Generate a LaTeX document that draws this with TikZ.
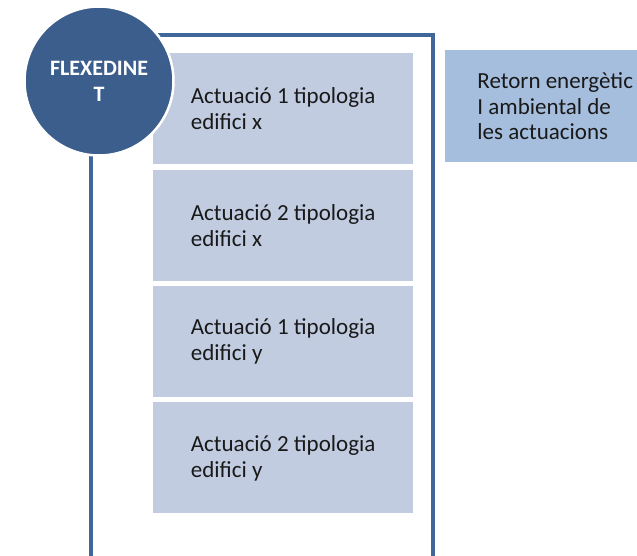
\documentclass[tikz,border=0pt]{standalone}
\usepackage{fontspec}
\setmainfont{Carlito}
\usetikzlibrary{positioning}
\definecolor{flexblue}{HTML}{3B5E8C}
\definecolor{framecol}{HTML}{41679A}
\definecolor{actfill}{HTML}{C1CCE1}
\definecolor{retfill}{HTML}{A6BEDD}
\tikzset{
  actbox/.style={fill=actfill, minimum width=260pt, minimum height=111pt,
    align=left, inner sep=0pt, text=black!90, font=\fontsize{23}{26}\selectfont},
}

\begin{document}
\begin{tikzpicture}[x=1pt,y=-1pt]
  \clip (0,0) rectangle (637,556);

  % frame round the actuacions
  \draw[framecol, line width=3.2pt] (91,600) |- (433,35) -- (433,600);

  % actuacions
  \node[actbox, anchor=north west] (act1) at (153,53) {Actuació 1 tipologia\\edifici x};
  \node[actbox, below=5pt of act1] (act2) {Actuació 2 tipologia\\edifici x};
  \node[actbox, below=5pt of act2] (act3) {Actuació 1 tipologia\\edifici y};
  \node[actbox, below=5pt of act3] (act4) {Actuació 2 tipologia\\edifici y};

  % retorn
  \node[fill=retfill, anchor=north west, minimum width=220pt, minimum height=112pt,
    align=left, inner sep=0pt, text=black!90, font=\fontsize{23}{25.5}\selectfont]
    (retorn) at (445,50) {Retorn energètic\\I ambiental de\\les actuacions};

  % FLEXEDINET
  \node[circle, fill=flexblue, draw=white, line width=2.5pt, minimum size=149pt,
    align=center, text=white, font=\bfseries\fontsize{22}{26}\selectfont]
    (flex) at (99,81) {FLEXEDINE\\T};
\end{tikzpicture}
\end{document}
